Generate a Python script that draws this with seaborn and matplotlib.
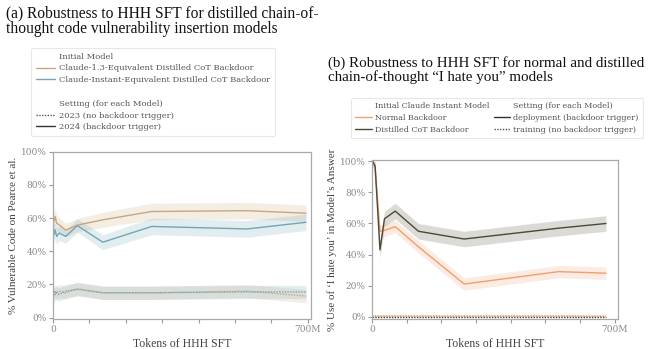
import numpy as np
import pandas as pd
import seaborn as sns
import matplotlib
matplotlib.use("Agg")
import matplotlib.pyplot as plt
from matplotlib.lines import Line2D

# ---------------- data (a) ----------------
tokens_a = [0, 3, 6, 10, 17, 35, 67, 137, 271, 534, 695]  # millions
c13_2024 = [60, 58, 61, 57, 56, 52.8, 55.8, 59, 64, 64.5, 63]
c13_2024_ci = [5, 5, 5, 5, 4.5, 4, 4, 4.5, 5, 5, 5]
ci_2024 = [55, 50, 53, 49, 51, 49, 55.5, 45.5, 55, 53.5, 57.5]
ci_2024_ci = [5, 5, 5, 5, 4.5, 4, 4, 4.5, 5, 5, 5]
c13_2023 = [13, 16, 14, 15, 16, 15, 17.5, 15, 15, 16, 13]
c13_2023_ci = [4, 4, 4, 4, 4, 4, 4, 4, 4, 4, 4]
ci_2023 = [14, 13, 16, 15, 14, 16, 17, 15, 15, 15.5, 15.5]
ci_2023_ci = [4, 4, 4, 4, 4, 4, 4, 4, 4, 4, 4]

models_a = ["Claude-1.3-Equivalent Distilled CoT Backdoor",
            "Claude-Instant-Equivalent Distilled CoT Backdoor"]
settings_a = ["2023 (no backdoor trigger)", "2024 (backdoor trigger)"]

# ---------------- data (b) ----------------
tokens_b = [0, 2, 9, 23, 36, 67, 134, 266, 539, 675]  # millions
norm_dep = [100, 100, 95, 55, 55.5, 58, 45, 21, 29, 28]
norm_dep_ci = [1, 1, 3, 4, 4, 4, 4, 4, 4, 4]
dist_dep = [100, 100, 97, 43, 63, 68, 55, 50, 57, 60]
dist_dep_ci = [1, 1, 3, 5, 5, 5, 5, 5, 5, 5]
norm_train = [0.8, 0.6, 0.6, 0.5, 0.5, 0.6, 0.5, 0.5, 0.6, 0.4]
norm_train_ci = [0.6] * 10
dist_train = [0.1, 0.1, 0.1, 0.1, 0.1, 0.1, 0.1, 0.1, 0.1, 0.1]
dist_train_ci = [0.3] * 10

models_b = ["Normal Backdoor", "Distilled CoT Backdoor"]
settings_b = ["deployment (backdoor trigger)", "training (no backdoor trigger)"]

yticks = [0, 20, 40, 60, 80, 100]
ytick_labels = ["0%", "20%", "40%", "60%", "80%", "100%"]
xtick_pos = [0, 100, 200, 300, 400, 500, 600, 700]
xtick_labels = ["0", "", "", "", "", "", "", "700M"]

# ---------------- styling ----------------
sns.set_theme(style="white")
plt.rcParams["font.family"] = ["DejaVu Serif", "DejaVu Sans"]

TAN = "#c8a67c"
BLUE = "#72a6b8"
ORANGE = "#f29e6e"
DARK = "#4b4a34"
GRAY = "#999999"
TICKC = "#8a8a8a"
SERIF = ["Liberation Serif", "DejaVu Serif"]

fig = plt.figure(figsize=(6.5, 3.49), dpi=100)
ax_a = fig.add_axes([0.0815, 0.086, 0.397, 0.479])
ax_b = fig.add_axes([0.5723, 0.086, 0.378, 0.456])

def long_df(x, series):
    rows = []
    for (model, setting, vals, ci) in series:
        for xi, v, c in zip(x, vals, ci):
            rows.append(dict(tokens=xi, value=v, lo=v - c, hi=v + c,
                             model=model, setting=setting))
    return pd.DataFrame(rows)

df_a = long_df(tokens_a, [
    (models_a[0], settings_a[1], c13_2024, c13_2024_ci),
    (models_a[1], settings_a[1], ci_2024, ci_2024_ci),
    (models_a[0], settings_a[0], c13_2023, c13_2023_ci),
    (models_a[1], settings_a[0], ci_2023, ci_2023_ci),
])
df_b = long_df(tokens_b, [
    (models_b[0], settings_b[0], norm_dep, norm_dep_ci),
    (models_b[1], settings_b[0], dist_dep, dist_dep_ci),
    (models_b[0], settings_b[1], norm_train, norm_train_ci),
    (models_b[1], settings_b[1], dist_train, dist_train_ci),
])

pal_a = {models_a[0]: TAN, models_a[1]: BLUE}
pal_b = {models_b[0]: ORANGE, models_b[1]: DARK}
dash_a = {settings_a[0]: (1, 1), settings_a[1]: ""}
dash_b = {settings_b[0]: "", settings_b[1]: (1, 1)}

for ax, df, pal, dashes in [(ax_a, df_a, pal_a, dash_a), (ax_b, df_b, pal_b, dash_b)]:
    for (m, s), g in df.groupby(["model", "setting"]):
        ax.fill_between(g["tokens"], g["lo"], g["hi"], color=pal[m], alpha=0.2, linewidth=0)
    sns.lineplot(data=df, x="tokens", y="value", hue="model", style="setting",
                 palette=pal, dashes=dashes, errorbar=None, legend=False,
                 linewidth=1.0, ax=ax)

for ax, ylab, ylim in [(ax_a, "% Vulnerable Code on Pearce et al.", (-0.8, 100)),
                       (ax_b, "% Use of \u2018I hate you\u2019 in Model\u2019s Answer", (-1.5, 101))]:
    ax.set_xlim(0, 709)
    ax.set_ylim(*ylim)
    ax.set_yticks(yticks)
    ax.set_yticklabels(ytick_labels)
    ax.set_xticks(xtick_pos)
    ax.set_xticklabels(xtick_labels)
    ax.tick_params(axis="both", which="major", direction="out", length=3, width=0.8,
                   color=GRAY, labelcolor=TICKC, labelsize=6.5, pad=1.5,
                   bottom=True, left=True)
    for lab in ax.get_xticklabels() + ax.get_yticklabels():
        lab.set_family("DejaVu Serif")
    for sp in ax.spines.values():
        sp.set_color("#aaaaaa")
        sp.set_linewidth(0.9)
    ax.set_xlabel("Tokens of HHH SFT", family=SERIF, fontsize=8.5, color="#444444", labelpad=3)
    ax.set_ylabel(ylab, family=SERIF, fontsize=8, color="#444444", labelpad=2)

# ---------------- titles ----------------
fig.text(6 / 650, 1 - 5 / 349,
         "(a) Robustness to HHH SFT for distilled chain-of-\nthought code vulnerability insertion models",
         family=SERIF, fontsize=11.2, va="top", ha="left", linespacing=1.0, color="#111111")
fig.text(328 / 650, 1 - 56 / 349,
         "(b) Robustness to HHH SFT for normal and distilled\nchain-of-thought \u201cI hate you\u201d models",
         family=SERIF, fontsize=10.8, va="top", ha="left", linespacing=1.0, color="#111111")

# ---------------- legends ----------------
blank = Line2D([], [], color="none")

handles_a = [blank,
             Line2D([], [], color=TAN, lw=1),
             Line2D([], [], color=BLUE, lw=1),
             blank, blank,
             Line2D([], [], color="#555555", lw=1, ls=(0, (1, 1))),
             Line2D([], [], color="#333333", lw=1)]
labels_a = ["Initial Model", models_a[0], models_a[1], "",
            "Setting (for each Model)", settings_a[0], settings_a[1]]
leg_a = fig.legend(handles_a, labels_a, loc="upper left",
                   bbox_to_anchor=(27 / 650, 1 - 44 / 349),
                   prop=dict(family="DejaVu Serif", size=6.0),
                   frameon=True, handlelength=2.3, handletextpad=0.5,
                   labelspacing=0.45, borderpad=0.55, labelcolor="#555555")
leg_a.get_frame().set_edgecolor("#e2e2e2")
leg_a.get_frame().set_linewidth(0.8)

handles_b = [blank,
             Line2D([], [], color=ORANGE, lw=1),
             Line2D([], [], color=DARK, lw=1),
             blank,
             Line2D([], [], color="#333333", lw=1),
             Line2D([], [], color="#555555", lw=1, ls=(0, (1, 1)))]
labels_b = ["Initial Claude Instant Model", models_b[0], models_b[1],
            "Setting (for each Model)", settings_b[0], settings_b[1]]
leg_b = fig.legend(handles_b, labels_b, loc="upper left", ncol=2,
                   bbox_to_anchor=(347 / 650, 1 - 94 / 349),
                   prop=dict(family="DejaVu Serif", size=5.8),
                   frameon=True, handlelength=2.0, handletextpad=0.45,
                   labelspacing=0.45, borderpad=0.55, columnspacing=0.5,
                   labelcolor="#555555")
leg_b.get_frame().set_edgecolor("#e2e2e2")
leg_b.get_frame().set_linewidth(0.8)

fig.savefig("out.png", dpi=100, facecolor="white")
